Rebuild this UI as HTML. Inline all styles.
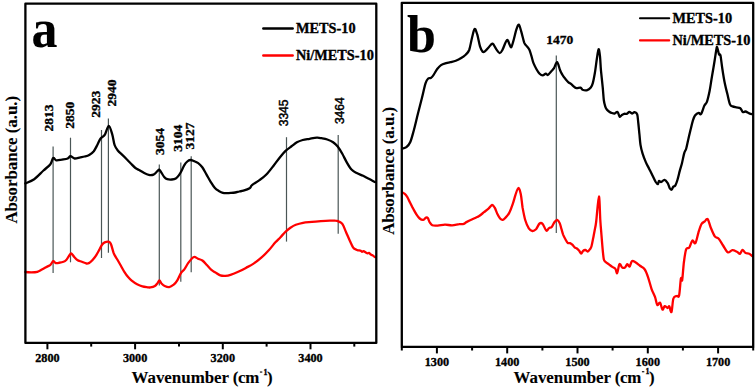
<!DOCTYPE html>
<html><head><meta charset="utf-8"><style>
html,body{margin:0;padding:0;background:#fff;}
svg{display:block;}
text{font-family:"Liberation Serif",serif;font-weight:bold;fill:#000;stroke:#000;stroke-width:0.35px;}
.t16,.big{stroke-width:0.1px;}
.t12{font-size:12.2px;}
.p13{font-size:13.5px;}
.t14{font-size:14.3px;}
.t16{font-size:16.9px;}
.big{font-size:52px;}
.s11{font-family:"Liberation Sans",sans-serif;font-size:12px;font-weight:normal;stroke-width:0.45px;}
</style></head><body>
<svg width="756" height="390" viewBox="0 0 756 390">
<rect width="756" height="390" fill="#fff"/>
<line x1="53.1" y1="146.5" x2="53.1" y2="273" stroke="#4a5656" stroke-width="1.2"/>
<line x1="70.5" y1="137.7" x2="70.5" y2="262.3" stroke="#4a5656" stroke-width="1.2"/>
<line x1="101.5" y1="130" x2="101.5" y2="258" stroke="#4a5656" stroke-width="1.2"/>
<line x1="108.4" y1="118.5" x2="108.4" y2="252.7" stroke="#4a5656" stroke-width="1.2"/>
<line x1="159.3" y1="164.6" x2="159.3" y2="285.6" stroke="#4a5656" stroke-width="1.2"/>
<line x1="180.8" y1="162.6" x2="180.8" y2="281.7" stroke="#4a5656" stroke-width="1.2"/>
<line x1="191.2" y1="156.2" x2="191.2" y2="272.2" stroke="#4a5656" stroke-width="1.2"/>
<line x1="286.5" y1="137.2" x2="286.5" y2="241.6" stroke="#4a5656" stroke-width="1.2"/>
<line x1="338.2" y1="134.9" x2="338.2" y2="233.8" stroke="#4a5656" stroke-width="1.2"/>
<line x1="556.3" y1="55.6" x2="556.3" y2="233" stroke="#4a5656" stroke-width="1.2"/>
<path d="M25.4,183.4 C26.9,182.7 31.2,181.3 34.2,179.2 C37.2,177.0 40.8,173.0 43.5,170.5 C46.2,168.0 48.8,166.3 50.4,164.2 C52.0,162.1 52.2,158.7 53.2,158.0 C54.2,157.3 54.8,160.0 56.2,160.3 C57.7,160.6 60.0,159.9 61.9,159.6 C63.8,159.3 66.3,159.1 67.7,158.5 C69.1,157.9 69.3,156.2 70.5,156.2 C71.7,156.2 72.9,158.3 74.6,158.5 C76.2,158.7 78.7,157.6 80.4,157.3 C82.1,157.0 83.1,156.9 84.6,156.5 C86.1,156.1 87.7,155.8 89.2,154.9 C90.7,154.0 92.5,152.8 93.8,151.2 C95.1,149.5 96.2,147.1 97.3,145.0 C98.4,142.9 99.4,140.2 100.3,138.8 C101.2,137.5 101.6,137.6 102.4,136.9 C103.2,136.2 103.8,136.4 104.9,134.6 C106.0,132.8 107.6,125.8 108.8,125.8 C110.0,125.8 111.3,131.4 112.3,134.6 C113.3,137.8 113.6,142.3 114.6,145.0 C115.5,147.7 116.8,149.3 118.0,150.8 C119.2,152.3 120.1,152.9 121.5,154.2 C122.9,155.5 124.7,157.2 126.2,158.8 C127.8,160.4 129.3,162.0 130.8,163.5 C132.3,165.0 133.9,166.9 135.4,168.0 C136.9,169.1 138.1,169.5 139.6,170.3 C141.1,171.2 142.7,172.3 144.2,173.1 C145.7,173.9 147.2,174.7 148.8,174.9 C150.4,175.2 152.1,175.2 153.5,174.6 C154.9,174.0 156.4,172.0 157.3,171.2 C158.2,170.4 158.5,169.5 159.2,169.7 C159.8,169.9 160.4,171.1 161.2,172.3 C162.0,173.5 163.2,175.8 164.2,176.9 C165.2,178.1 166.0,178.8 167.3,179.2 C168.6,179.6 170.5,179.6 171.9,179.5 C173.3,179.4 174.7,179.2 175.8,178.5 C177.0,177.8 177.9,176.6 178.8,175.4 C179.7,174.2 180.3,173.2 181.2,171.5 C182.1,169.8 183.2,167.1 184.2,165.4 C185.2,163.7 186.3,162.4 187.3,161.5 C188.3,160.6 189.3,160.1 190.4,160.0 C191.5,159.9 192.8,160.6 194.1,161.1 C195.4,161.6 196.8,162.1 198.2,163.1 C199.6,164.1 200.9,165.4 202.3,167.3 C203.7,169.2 205.0,172.0 206.4,174.4 C207.8,176.8 209.1,179.4 210.5,181.6 C211.9,183.8 213.3,186.2 214.7,187.8 C216.1,189.4 217.4,190.1 218.8,190.9 C220.2,191.7 221.5,192.4 222.9,192.8 C224.3,193.2 225.6,193.1 227.0,193.1 C228.4,193.1 229.7,193.0 231.1,192.9 C232.5,192.8 233.8,192.7 235.2,192.5 C236.6,192.3 237.9,191.8 239.3,191.5 C240.7,191.2 241.7,191.2 243.4,190.7 C245.1,190.2 248.2,189.2 249.6,188.3 C251.0,187.4 250.4,186.5 252.0,185.2 C253.6,183.9 256.8,182.1 259.1,180.4 C261.5,178.7 263.8,177.2 266.1,174.8 C268.5,172.4 270.9,169.2 273.2,166.2 C275.5,163.2 278.1,159.6 280.2,157.0 C282.3,154.4 283.9,152.5 285.8,150.7 C287.7,148.9 289.6,147.7 291.5,146.3 C293.4,144.9 295.0,143.4 296.9,142.3 C298.8,141.2 300.6,140.6 302.7,140.0 C304.8,139.4 307.2,139.2 309.6,138.8 C312.0,138.4 314.9,137.8 316.9,137.7 C318.9,137.6 319.8,137.9 321.5,138.2 C323.2,138.5 325.4,138.8 327.3,139.5 C329.2,140.2 331.4,141.1 333.1,142.3 C334.8,143.5 336.2,144.6 337.7,146.5 C339.2,148.4 340.8,151.1 342.3,153.8 C343.8,156.5 345.4,160.0 346.9,162.6 C348.4,165.2 349.9,167.8 351.5,169.5 C353.1,171.2 354.3,171.8 356.2,172.8 C358.1,173.9 361.0,174.8 363.1,175.8 C365.2,176.8 366.8,177.8 368.8,178.8 C370.8,179.8 374.0,181.5 375.0,182.0" fill="none" stroke="#000" stroke-width="2.3" stroke-linejoin="round" stroke-linecap="round"/>
<path d="M25.4,272.0 C26.4,272.1 29.2,272.3 31.2,272.3 C33.2,272.3 35.5,272.3 37.3,271.8 C39.1,271.3 40.4,270.3 41.9,269.5 C43.4,268.7 45.1,267.7 46.5,266.9 C47.9,266.1 49.3,265.8 50.4,264.9 C51.5,263.9 52.3,261.5 53.2,261.2 C54.1,260.9 54.9,262.8 55.8,263.1 C56.7,263.4 57.5,263.0 58.8,262.8 C60.1,262.6 62.2,262.3 63.5,261.8 C64.8,261.3 65.6,260.6 66.5,259.7 C67.4,258.8 68.0,257.2 68.8,256.2 C69.6,255.2 70.3,253.4 71.2,253.5 C72.1,253.6 73.2,255.8 74.2,256.9 C75.2,258.0 76.0,259.2 77.3,260.0 C78.6,260.8 80.4,261.2 81.9,261.8 C83.4,262.4 85.2,263.3 86.5,263.5 C87.8,263.7 88.5,263.3 89.5,262.8 C90.5,262.3 91.2,261.5 92.2,260.4 C93.2,259.2 94.6,257.7 95.8,255.9 C97.0,254.1 98.4,251.4 99.4,249.6 C100.4,247.8 101.1,246.0 102.0,244.8 C102.9,243.6 103.5,242.9 104.7,242.4 C105.9,241.9 108.2,241.6 109.2,241.9 C110.2,242.2 110.2,242.3 111.0,244.2 C111.8,246.1 112.7,250.6 113.7,253.2 C114.8,255.8 116.1,257.4 117.3,259.5 C118.5,261.6 119.7,263.7 120.9,265.8 C122.1,267.9 123.3,270.2 124.5,272.1 C125.7,274.0 126.9,275.7 128.1,277.1 C129.3,278.5 130.2,279.5 131.7,280.7 C133.2,281.9 135.3,283.4 137.1,284.3 C138.9,285.2 140.6,285.9 142.4,286.4 C144.2,286.9 146.5,287.1 147.8,287.3 C149.1,287.5 149.2,287.6 150.4,287.4 C151.6,287.2 153.7,286.7 154.9,286.0 C156.1,285.3 156.8,283.9 157.6,283.0 C158.3,282.1 158.8,280.2 159.4,280.3 C160.1,280.4 160.6,282.6 161.5,283.5 C162.4,284.4 163.4,285.4 164.7,286.0 C166.0,286.6 167.7,287.3 169.2,287.1 C170.7,286.9 172.3,285.8 173.7,284.7 C175.0,283.6 176.1,282.2 177.3,280.3 C178.5,278.4 179.7,275.0 180.9,273.1 C182.1,271.2 183.3,270.8 184.5,269.1 C185.7,267.5 186.9,264.9 188.1,263.2 C189.3,261.5 190.6,259.8 191.7,258.7 C192.8,257.6 193.3,256.9 194.4,256.9 C195.5,256.9 196.7,258.1 198.0,258.7 C199.3,259.3 200.9,259.4 202.4,260.5 C203.9,261.6 205.4,263.4 206.9,265.0 C208.4,266.6 210.0,268.6 211.4,269.8 C212.8,271.0 213.6,271.4 215.1,272.3 C216.6,273.2 218.6,274.8 220.3,275.4 C222.0,276.0 223.7,276.0 225.4,275.9 C227.1,275.8 228.4,275.6 230.5,274.9 C232.6,274.2 235.6,273.0 238.2,271.8 C240.8,270.6 243.3,269.3 245.9,267.9 C248.5,266.5 251.0,265.3 253.6,263.6 C256.2,261.9 258.7,260.0 261.3,257.7 C263.9,255.4 266.6,252.6 269.0,250.0 C271.4,247.4 273.5,244.4 275.4,242.3 C277.3,240.2 278.9,238.9 280.5,237.2 C282.1,235.5 283.4,233.9 285.0,232.3 C286.6,230.7 288.6,229.1 290.4,227.8 C292.2,226.6 293.7,225.6 295.8,224.8 C297.9,224.0 300.3,223.3 303.0,222.8 C305.7,222.3 308.9,222.2 311.9,221.9 C314.9,221.6 317.9,221.4 320.9,221.2 C323.9,221.0 327.5,220.8 329.9,220.7 C332.3,220.6 333.8,220.5 335.3,220.7 C336.8,220.8 337.7,221.0 338.9,221.6 C340.1,222.2 341.3,222.4 342.5,224.2 C343.7,226.0 344.9,229.6 346.1,232.3 C347.3,235.0 348.5,237.9 349.7,240.4 C350.9,242.9 352.2,246.1 353.2,247.6 C354.2,249.1 355.1,248.9 355.9,249.4 C356.7,249.9 357.2,250.1 358.0,250.3 C358.8,250.5 359.7,250.3 360.4,250.6 C361.1,250.8 361.5,251.7 362.0,251.8 C362.5,251.9 362.9,251.0 363.5,251.1 C364.1,251.2 365.1,252.0 365.8,252.4 C366.5,252.8 367.0,253.3 367.5,253.4 C368.0,253.5 368.4,252.7 369.0,252.9 C369.6,253.1 370.5,254.4 371.2,254.8 C371.9,255.2 372.4,255.2 373.0,255.6 C373.6,256.0 374.7,256.9 375.0,257.1" fill="none" stroke="#f00" stroke-width="2.3" stroke-linejoin="round" stroke-linecap="round"/>
<path d="M402.6,148.5 C403.2,148.3 405.1,148.3 406.4,147.2 C407.7,146.1 409.0,145.0 410.3,142.0 C411.6,139.0 412.8,133.9 414.1,129.2 C415.4,124.5 416.6,118.9 417.9,113.8 C419.2,108.7 420.5,103.6 421.8,98.5 C423.1,93.4 424.5,86.4 425.6,83.1 C426.7,79.8 427.3,79.4 428.2,78.5 C429.1,77.6 429.9,78.4 430.8,77.9 C431.7,77.4 432.2,76.9 433.3,75.4 C434.4,73.9 435.9,70.7 437.2,69.0 C438.5,67.3 439.5,66.1 441.0,65.1 C442.5,64.1 444.6,63.6 446.2,63.1 C447.8,62.6 448.8,62.6 450.4,62.2 C452.0,61.8 454.0,61.5 455.8,60.8 C457.6,60.1 459.6,59.1 461.2,58.1 C462.8,57.1 464.3,56.1 465.6,54.8 C466.9,53.4 468.1,52.8 469.2,50.0 C470.2,47.2 471.0,41.8 471.9,38.3 C472.8,34.8 473.7,29.6 474.6,29.0 C475.5,28.4 476.4,31.8 477.3,34.7 C478.2,37.6 479.1,43.5 480.0,46.4 C480.9,49.2 481.8,51.0 482.7,51.8 C483.6,52.5 484.3,51.7 485.4,50.9 C486.4,50.1 487.8,48.2 489.0,47.0 C490.2,45.8 491.4,43.4 492.6,43.7 C493.8,44.1 495.0,47.5 496.2,49.1 C497.4,50.7 498.7,53.0 499.7,53.1 C500.7,53.2 501.2,52.2 502.4,50.0 C503.6,47.8 505.7,41.0 506.9,40.1 C508.1,39.2 508.9,43.5 509.6,44.6 C510.4,45.8 510.6,48.0 511.4,47.0 C512.1,46.0 513.3,41.2 514.1,38.3 C514.9,35.4 515.6,31.7 516.4,29.4 C517.2,27.1 518.0,24.4 518.8,24.7 C519.6,25.0 520.3,28.3 521.2,31.3 C522.1,34.3 523.4,40.2 524.2,42.6 C525.1,45.0 525.4,44.4 526.3,45.6 C527.2,46.8 528.5,48.0 529.4,49.7 C530.2,51.4 530.7,53.7 531.4,55.9 C532.1,58.1 532.6,60.9 533.5,63.1 C534.4,65.3 535.5,67.4 536.5,69.2 C537.5,71.0 538.6,72.7 539.6,73.7 C540.6,74.7 541.7,75.4 542.7,75.4 C543.7,75.4 544.9,73.8 545.8,73.7 C546.6,73.6 546.9,75.3 547.8,75.0 C548.6,74.7 549.9,72.8 550.9,71.7 C551.9,70.6 553.0,69.8 554.0,68.2 C555.0,66.6 556.1,61.8 557.1,62.1 C558.1,62.5 559.2,68.1 560.1,70.3 C561.0,72.5 561.7,73.6 562.5,75.0 C563.3,76.4 564.1,77.4 565.1,78.6 C566.1,79.8 567.2,81.2 568.2,82.1 C569.2,83.0 570.4,83.4 571.3,84.1 C572.1,84.8 572.4,85.5 573.3,86.2 C574.1,86.9 575.2,88.0 576.4,88.2 C577.6,88.4 579.5,87.3 580.5,87.6 C581.5,87.9 581.6,89.3 582.6,89.8 C583.6,90.2 585.3,90.7 586.7,90.3 C588.1,89.9 589.8,88.8 590.8,87.6 C591.8,86.4 592.1,85.6 592.8,83.1 C593.5,80.6 594.2,76.9 594.9,72.8 C595.6,68.7 596.3,62.4 596.9,58.5 C597.5,54.6 598.1,49.6 598.6,49.2 C599.1,48.9 599.6,52.8 600.0,56.4 C600.4,60.0 600.5,65.7 601.0,70.8 C601.5,75.9 602.2,82.3 602.7,87.2 C603.2,92.1 603.4,96.8 603.8,100.0 C604.2,103.2 604.8,105.0 605.3,106.6 C605.8,108.2 606.4,109.0 607.0,109.8 C607.6,110.6 608.3,111.0 609.0,111.5 C609.7,112.0 610.5,112.5 611.4,112.8 C612.3,113.1 613.6,113.7 614.6,113.5 C615.6,113.3 616.6,111.4 617.5,111.9 C618.4,112.4 619.0,116.2 619.7,116.7 C620.4,117.2 621.0,115.6 621.7,115.1 C622.5,114.6 623.4,114.0 624.2,113.8 C625.1,113.6 625.9,114.1 626.8,113.8 C627.7,113.5 628.5,112.0 629.4,111.9 C630.3,111.9 631.1,113.5 632.0,113.5 C632.9,113.5 633.6,112.0 634.5,112.2 C635.4,112.4 636.6,112.6 637.2,114.4 C637.8,116.2 637.9,119.7 638.3,123.0 C638.7,126.3 639.0,130.3 639.4,134.0 C639.8,137.7 640.0,141.6 640.5,144.9 C641.0,148.2 641.7,150.7 642.6,153.6 C643.5,156.5 644.8,159.8 645.9,162.4 C647.0,165.0 648.1,166.7 649.2,168.9 C650.3,171.1 651.4,173.3 652.5,175.5 C653.6,177.7 654.8,180.6 655.7,182.0 C656.6,183.4 657.4,184.4 657.9,184.2 C658.4,184.0 658.5,181.3 659.0,180.9 C659.5,180.5 660.3,182.2 661.2,182.0 C662.1,181.8 663.4,179.6 664.5,179.8 C665.6,180.0 666.8,181.7 667.7,183.1 C668.6,184.5 669.2,187.4 669.9,188.5 C670.6,189.6 671.2,189.9 671.7,189.6 C672.2,189.3 672.6,187.5 673.2,186.8 C673.8,186.1 674.7,186.5 675.4,185.3 C676.1,184.1 676.8,182.2 677.5,179.8 C678.2,177.4 679.0,173.8 679.7,171.1 C680.4,168.4 681.2,166.4 681.9,163.5 C682.6,160.6 683.4,156.2 684.1,153.6 C684.8,151.0 685.6,150.7 686.3,148.2 C687.0,145.7 687.8,141.5 688.5,138.4 C689.2,135.3 689.9,132.5 690.6,129.6 C691.3,126.7 692.1,123.2 692.8,120.9 C693.5,118.6 694.0,116.8 695.0,115.5 C696.0,114.2 697.7,113.0 698.7,112.8 C699.7,112.6 700.0,115.3 701.0,114.1 C702.0,112.9 703.4,107.6 704.4,105.6 C705.4,103.5 706.0,104.1 706.9,101.8 C707.8,99.5 708.6,95.8 709.5,91.5 C710.4,87.2 711.1,81.3 712.0,76.2 C712.9,71.1 713.9,65.3 714.6,60.8 C715.3,56.3 716.0,51.4 716.4,49.2 C716.8,47.0 716.8,46.5 717.2,47.4 C717.6,48.3 718.5,53.0 719.0,54.4 C719.5,55.8 720.0,53.2 720.5,55.6 C721.0,58.0 721.6,63.8 722.3,68.5 C723.0,73.2 724.0,79.5 724.9,83.8 C725.8,88.1 726.5,90.7 727.4,94.1 C728.2,97.5 729.1,102.4 730.0,104.4 C730.9,106.5 731.5,105.9 732.6,106.4 C733.7,106.9 735.1,107.1 736.4,107.4 C737.7,107.7 739.2,107.4 740.3,108.2 C741.4,109.0 741.9,111.5 742.8,112.1 C743.6,112.6 744.3,111.3 745.4,111.5 C746.5,111.7 748.1,112.9 749.2,113.3 C750.3,113.7 751.4,114.0 751.8,114.1" fill="none" stroke="#000" stroke-width="2.3" stroke-linejoin="round" stroke-linecap="round"/>
<path d="M402.2,192.4 C402.6,192.6 403.7,192.9 404.5,193.7 C405.3,194.4 406.3,195.5 407.2,196.9 C408.1,198.3 409.0,200.5 409.9,202.3 C410.8,204.1 411.6,205.8 412.6,207.7 C413.7,209.6 415.0,212.2 416.2,214.0 C417.4,215.8 418.5,217.5 419.7,218.5 C420.9,219.5 422.2,220.1 423.3,219.9 C424.4,219.8 425.2,217.9 426.0,217.6 C426.8,217.3 427.2,217.3 427.8,218.1 C428.4,218.8 428.9,220.9 429.6,222.1 C430.4,223.3 431.0,224.7 432.3,225.3 C433.6,225.9 435.6,225.7 437.7,225.6 C439.8,225.5 442.5,224.8 444.9,224.7 C447.3,224.6 449.7,225.4 452.1,225.3 C454.5,225.2 457.3,224.4 459.2,224.2 C461.1,223.9 462.5,224.2 463.7,223.8 C464.9,223.5 465.0,222.8 466.4,222.1 C467.8,221.4 470.0,220.3 471.8,219.5 C473.6,218.7 475.9,217.6 477.2,217.0 C478.5,216.4 478.4,216.6 479.5,215.8 C480.6,215.0 482.5,213.4 484.0,212.2 C485.5,211.0 487.1,209.8 488.5,208.6 C489.9,207.4 491.1,205.2 492.1,205.0 C493.1,204.8 493.8,206.2 494.7,207.7 C495.6,209.2 496.5,212.2 497.4,214.0 C498.3,215.8 499.2,217.5 500.1,218.5 C501.0,219.5 501.9,220.1 502.8,219.9 C503.7,219.8 504.4,218.7 505.5,217.6 C506.6,216.5 507.9,215.3 509.1,213.1 C510.3,210.8 511.7,207.1 512.7,204.1 C513.8,201.1 514.5,197.8 515.4,195.1 C516.3,192.4 517.5,188.2 518.4,188.0 C519.3,187.8 520.1,190.9 520.8,194.2 C521.5,197.5 521.9,203.3 522.6,207.7 C523.4,212.0 524.3,216.9 525.3,220.3 C526.3,223.7 527.6,226.5 528.8,228.3 C530.0,230.1 531.2,230.8 532.4,231.0 C533.6,231.2 534.8,230.4 536.0,229.2 C537.2,227.9 538.5,224.4 539.6,223.5 C540.7,222.6 541.6,222.8 542.7,224.0 C543.8,225.2 545.2,229.9 546.3,230.6 C547.3,231.3 548.1,228.7 549.0,228.1 C549.9,227.5 550.8,228.0 551.7,227.0 C552.6,226.0 553.5,223.4 554.4,222.2 C555.3,221.0 556.2,219.7 557.1,219.8 C558.0,220.0 559.0,221.5 559.7,223.1 C560.4,224.7 560.9,227.3 561.5,229.2 C562.1,231.1 562.5,232.9 563.1,234.6 C563.8,236.3 564.6,237.8 565.4,239.2 C566.2,240.6 566.9,242.2 567.7,242.8 C568.5,243.5 569.2,242.8 570.0,243.1 C570.8,243.4 571.5,243.9 572.3,244.6 C573.1,245.3 573.8,246.8 574.6,247.4 C575.4,248.1 576.1,247.9 576.9,248.5 C577.7,249.1 578.5,250.0 579.2,250.8 C579.9,251.6 580.6,253.5 581.2,253.5 C581.9,253.5 582.4,251.4 583.1,250.8 C583.8,250.2 584.6,249.9 585.4,250.0 C586.2,250.1 586.9,251.6 587.7,251.5 C588.5,251.4 589.4,250.1 590.0,249.2 C590.6,248.3 591.0,248.0 591.5,246.2 C592.0,244.4 592.6,241.1 593.1,238.5 C593.6,235.9 594.1,233.6 594.6,230.8 C595.1,228.0 595.5,227.2 596.2,221.5 C596.9,215.8 598.2,196.8 598.9,196.5 C599.6,196.2 599.9,213.5 600.3,220.0 C600.7,226.5 601.1,230.3 601.5,235.4 C601.9,240.5 602.4,246.8 602.8,250.8 C603.2,254.8 603.4,257.4 603.8,259.2 C604.2,261.0 604.5,260.9 605.4,261.8 C606.3,262.7 608.1,263.8 609.2,264.6 C610.4,265.5 611.3,266.2 612.3,266.9 C613.3,267.6 614.6,267.9 615.4,268.9 C616.2,269.9 616.5,273.9 617.2,273.1 C617.9,272.3 618.6,265.1 619.4,264.2 C620.2,263.2 621.3,266.9 622.2,267.4 C623.1,267.9 624.1,267.9 625.0,267.4 C625.9,266.9 626.5,264.3 627.3,264.2 C628.1,264.1 628.8,267.0 629.6,266.5 C630.4,266.0 630.9,261.9 631.9,261.2 C632.9,260.5 634.0,261.5 635.4,262.3 C636.8,263.1 638.5,264.7 640.0,265.8 C641.5,266.9 643.2,267.3 644.6,269.2 C646.0,271.1 647.0,274.0 648.1,277.3 C649.2,280.6 650.4,285.5 651.5,288.8 C652.6,292.1 654.0,294.2 655.0,296.9 C656.0,299.6 656.4,304.0 657.3,305.0 C658.1,306.0 659.2,301.9 660.1,302.7 C661.0,303.5 661.6,309.0 662.4,309.6 C663.2,310.2 663.8,306.5 664.7,306.2 C665.6,305.9 666.9,308.0 667.7,308.0 C668.5,308.0 668.7,305.5 669.3,306.2 C669.9,306.9 670.8,313.3 671.5,312.0 C672.2,310.7 672.5,301.2 673.4,298.5 C674.3,295.8 675.9,296.5 676.9,296.0 C677.9,295.5 678.4,298.3 679.1,295.4 C679.8,292.5 680.4,281.1 680.9,278.5 C681.4,275.9 681.7,282.8 682.2,280.0 C682.7,277.2 683.3,266.6 684.0,261.5 C684.7,256.4 685.3,251.5 686.2,249.2 C687.1,246.9 688.2,249.1 689.2,247.7 C690.2,246.3 691.3,241.4 692.3,240.6 C693.3,239.8 694.4,244.5 695.4,243.1 C696.4,241.7 697.5,235.5 698.5,232.3 C699.5,229.1 700.5,225.8 701.5,224.0 C702.5,222.2 703.6,222.3 704.6,221.5 C705.6,220.7 706.7,218.1 707.7,219.1 C708.7,220.1 709.6,224.8 710.8,227.7 C712.0,230.6 713.5,234.5 714.8,236.3 C716.1,238.1 717.1,237.0 718.5,238.5 C719.9,240.0 721.6,243.2 723.1,245.5 C724.6,247.8 726.2,251.5 727.7,252.3 C729.2,253.1 730.8,250.3 732.3,250.2 C733.8,250.1 735.6,251.1 736.9,251.7 C738.2,252.3 739.1,254.1 740.0,253.8 C740.9,253.5 741.6,250.0 742.5,249.8 C743.4,249.7 744.4,252.2 745.5,252.9 C746.6,253.6 748.1,253.3 749.2,253.8 C750.3,254.3 751.8,255.6 752.3,256.0" fill="none" stroke="#f00" stroke-width="2.3" stroke-linejoin="round" stroke-linecap="round"/>
<rect x="25.4" y="3.7" width="350.9" height="339.2" fill="none" stroke="#000" stroke-width="2.3" stroke-linejoin="round"/>
<rect x="401.8" y="2.8" width="351.4" height="344.1" fill="none" stroke="#000" stroke-width="2.3" stroke-linejoin="round"/>
<line x1="47.4" y1="342.9" x2="47.4" y2="349.3" stroke="#000" stroke-width="2"/>
<text x="47.4" y="361.7" class="t12" text-anchor="middle">2800</text>
<line x1="135.1" y1="342.9" x2="135.1" y2="349.3" stroke="#000" stroke-width="2"/>
<text x="135.1" y="361.7" class="t12" text-anchor="middle">3000</text>
<line x1="222.8" y1="342.9" x2="222.8" y2="349.3" stroke="#000" stroke-width="2"/>
<text x="222.8" y="361.7" class="t12" text-anchor="middle">3200</text>
<line x1="310.5" y1="342.9" x2="310.5" y2="349.3" stroke="#000" stroke-width="2"/>
<text x="310.5" y="361.7" class="t12" text-anchor="middle">3400</text>
<line x1="91.2" y1="342.9" x2="91.2" y2="346.6" stroke="#000" stroke-width="2"/>
<line x1="179.0" y1="342.9" x2="179.0" y2="346.6" stroke="#000" stroke-width="2"/>
<line x1="266.6" y1="342.9" x2="266.6" y2="346.6" stroke="#000" stroke-width="2"/>
<line x1="354.3" y1="342.9" x2="354.3" y2="346.6" stroke="#000" stroke-width="2"/>
<line x1="436.9" y1="346.9" x2="436.9" y2="353.4" stroke="#000" stroke-width="2"/>
<text x="436.9" y="365.7" class="t12" text-anchor="middle">1300</text>
<line x1="507.2" y1="346.9" x2="507.2" y2="353.4" stroke="#000" stroke-width="2"/>
<text x="507.2" y="365.7" class="t12" text-anchor="middle">1400</text>
<line x1="577.5" y1="346.9" x2="577.5" y2="353.4" stroke="#000" stroke-width="2"/>
<text x="577.5" y="365.7" class="t12" text-anchor="middle">1500</text>
<line x1="647.8" y1="346.9" x2="647.8" y2="353.4" stroke="#000" stroke-width="2"/>
<text x="647.8" y="365.7" class="t12" text-anchor="middle">1600</text>
<line x1="718.1" y1="346.9" x2="718.1" y2="353.4" stroke="#000" stroke-width="2"/>
<text x="718.1" y="365.7" class="t12" text-anchor="middle">1700</text>
<line x1="401.8" y1="346.9" x2="401.8" y2="350.5" stroke="#000" stroke-width="2"/>
<line x1="472.1" y1="346.9" x2="472.1" y2="350.5" stroke="#000" stroke-width="2"/>
<line x1="542.4" y1="346.9" x2="542.4" y2="350.5" stroke="#000" stroke-width="2"/>
<line x1="612.6" y1="346.9" x2="612.6" y2="350.5" stroke="#000" stroke-width="2"/>
<line x1="682.9" y1="346.9" x2="682.9" y2="350.5" stroke="#000" stroke-width="2"/>
<line x1="753.2" y1="346.9" x2="753.2" y2="350.5" stroke="#000" stroke-width="2"/>
<text x="131.5" y="383.0" class="t16">Wavenumber</text>
<text x="232.7" y="383.0" class="t16" letter-spacing="-0.25">(cm</text>
<rect x="259.9" y="371.5" width="2.4" height="1.1" fill="#000"/>
<text x="263.4" y="374.5" style="font-size:8px">1</text>
<text x="267" y="383.0" class="t16">)</text>
<text x="513.5" y="383.0" class="t16">Wavenumber</text>
<text x="614.7" y="383.0" class="t16" letter-spacing="-0.25">(cm</text>
<rect x="641.9" y="371.2" width="2.4" height="1.1" fill="#000"/>
<text x="645.4" y="373.5" style="font-size:8px">1</text>
<text x="649" y="383.0" class="t16">)</text>
<text transform="translate(16.7,159.7) rotate(-90)" text-anchor="middle" class="t16" style="font-size:16.85px">Absorbance (a.u.)</text>
<text transform="translate(393.6,170.8) rotate(-90)" text-anchor="middle" class="t16" style="font-size:16.9px">Absorbance (a.u.)</text>
<text transform="translate(31.5,47.3) scale(1,1.045)" class="big">a</text>
<text x="407" y="52.3" class="big">b</text>
<line x1="263.3" y1="28.5" x2="292.7" y2="28.5" stroke="#000" stroke-width="2.4" stroke-linecap="round"/>
<line x1="263.3" y1="55.5" x2="292.7" y2="55.5" stroke="#f00" stroke-width="2.4" stroke-linecap="round"/>
<text x="296" y="33.2" class="t14">METS-10</text>
<text x="296" y="60.1" class="t14">Ni/METS-10</text>
<line x1="640" y1="18.2" x2="669.2" y2="18.2" stroke="#000" stroke-width="2.1" stroke-linecap="round"/>
<line x1="640" y1="40.4" x2="669.2" y2="40.4" stroke="#f00" stroke-width="2.1" stroke-linecap="round"/>
<text x="672.5" y="22.9" class="t14">METS-10</text>
<text x="672.5" y="45.4" class="t14">Ni/METS-10</text>
<text transform="translate(53.2,117.95) rotate(-90)" text-anchor="middle" class="p13">2813</text>
<text transform="translate(74.2,115.25) rotate(-90)" text-anchor="middle" class="p13">2850</text>
<text transform="translate(99.6,104.35) rotate(-90)" text-anchor="middle" class="p13">2923</text>
<text transform="translate(115.9,93.1) rotate(-90)" text-anchor="middle" class="p13">2940</text>
<text transform="translate(163.7,141.45) rotate(-90)" text-anchor="middle" class="p13">3054</text>
<text transform="translate(182.0,138.15) rotate(-90)" text-anchor="middle" class="p13">3104</text>
<text transform="translate(194.4,136.05) rotate(-90)" text-anchor="middle" class="p13">3127</text>
<text transform="translate(288.1,112.9) rotate(-90)" text-anchor="middle" class="s11">3345</text>
<text transform="translate(343.5,110.75) rotate(-90)" text-anchor="middle" class="s11">3464</text>
<text x="559.7" y="43.6" text-anchor="middle" class="p13">1470</text>
</svg>
</body></html>
